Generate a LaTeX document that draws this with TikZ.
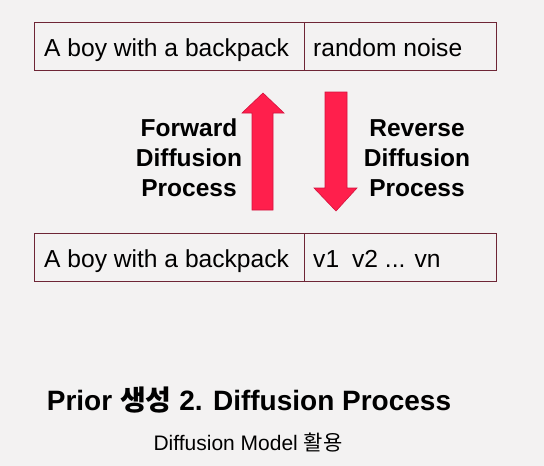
\documentclass[tikz,border=0pt]{standalone}
\usepackage{fontspec}
\setmainfont{Liberation Sans}
\newfontfamily\kofont{Noto Sans CJK KR}
\definecolor{bgc}{HTML}{F3F2F2}
\definecolor{boxline}{HTML}{6E2636}
\definecolor{arrowfill}{HTML}{FF1F4C}
\definecolor{arrowline}{HTML}{D4123E}
\begin{document}
\begin{tikzpicture}[x=1pt,y=-1pt,
  cell/.style={draw=boxline,line width=1pt,minimum height=48pt,anchor=north west,
    inner sep=0pt},
  celltext/.style={anchor=base west,inner sep=0pt,font=\fontsize{24.6}{28}\selectfont},
  proclabel/.style={align=center,font=\bfseries\fontsize{24.5}{30}\selectfont},
  bigarrow/.style={fill=arrowfill,draw=arrowline,line width=0.6pt,line join=miter}]
\fill[bgc] (0,0) rectangle (544,466);
\useasboundingbox (0,0) rectangle (544,466);
% top row: prompt and noise
\node[cell,minimum width=270pt] (tl) at (34,22) {};
\node[cell,minimum width=192pt] (tr) at (304,22) {};
\node[celltext] (tlt) at (44,56) {A boy with a backpack};
\node[celltext] (trt) at (313,56) {random noise};
% bottom row: prompt and vectors
\node[cell,minimum width=270pt] (bl) at (34,233) {};
\node[cell,minimum width=192pt] (br) at (304,233) {};
\node[celltext] (blt) at (44,267) {A boy with a backpack};
\node[celltext] (brt) at (313,267) {v1\hspace{13pt}v2 ... vn};
% forward (up) arrow
\draw[bigarrow] (252,210) -- (252,113) -- (242,113) -- (263,93) -- (284,113) -- (273,113) -- (273,210) -- cycle;
% reverse (down) arrow
\draw[bigarrow] (325,92) -- (347,92) -- (347,188) -- (357,188) -- (336,211) -- (314,188) -- (325,188) -- cycle;
\node[proclabel] (fwd) at (189,158) {Forward\\Diffusion\\Process};
\node[proclabel] (rev) at (417,158) {Reverse\\Diffusion\\Process};
% caption
\node[font=\bfseries\fontsize{28}{32}\selectfont] (title) at (249,400) {Prior {\kofont 생성} 2. Diffusion Process};
\node[font=\fontsize{21}{24}\selectfont] (sub) at (248,443) {Diffusion Model {\kofont 활용}};
\end{tikzpicture}
\end{document}
